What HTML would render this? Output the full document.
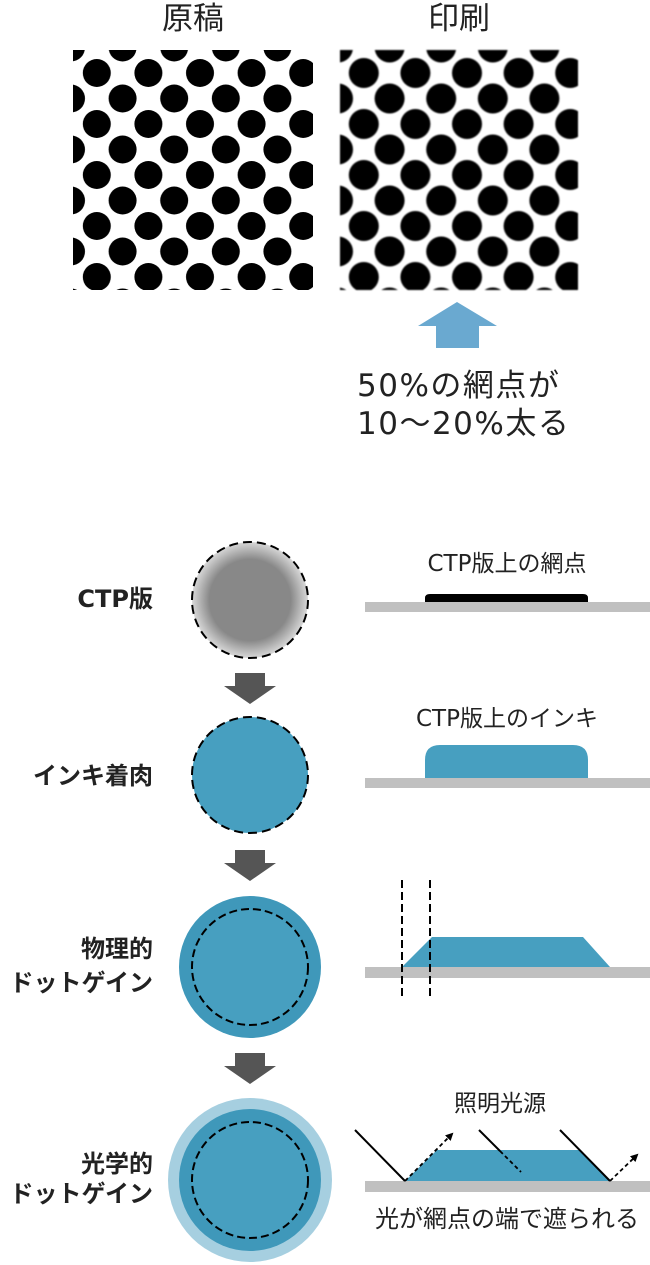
<!DOCTYPE html>
<html><head><meta charset="utf-8"><style>
html,body{margin:0;padding:0;background:#fff;width:650px;height:1265px;overflow:hidden}
svg{display:block}
text{font-family:"DejaVu Sans","Noto Sans CJK JP",sans-serif}
</style></head><body>
<svg width="650" height="1265" viewBox="0 0 650 1265" xmlns="http://www.w3.org/2000/svg">
<defs>
<pattern id="dots" x="71" y="47.5" width="51.6" height="51" patternUnits="userSpaceOnUse">
<circle cx="0" cy="0" r="14" fill="#000"/><circle cx="51.6" cy="0" r="14" fill="#000"/>
<circle cx="0" cy="51" r="14" fill="#000"/><circle cx="51.6" cy="51" r="14" fill="#000"/>
<circle cx="25.8" cy="25.5" r="14" fill="#000"/>
</pattern>
<pattern id="dots2" x="338" y="47.5" width="51.6" height="51" patternUnits="userSpaceOnUse">
<circle cx="0" cy="0" r="15" fill="#000"/><circle cx="51.6" cy="0" r="15" fill="#000"/>
<circle cx="0" cy="51" r="15" fill="#000"/><circle cx="51.6" cy="51" r="15" fill="#000"/>
<circle cx="25.8" cy="25.5" r="15" fill="#000"/>
</pattern>
<filter id="bl"><feGaussianBlur stdDeviation="0.7"/></filter>
<radialGradient id="g1"><stop offset="0.7" stop-color="#888"/><stop offset="1" stop-color="#d8d8d8"/></radialGradient>
<marker id="ah" markerWidth="8" markerHeight="8" refX="6" refY="4" orient="auto" markerUnits="userSpaceOnUse"><path d="M0,0 L8,4 L0,8z" fill="#000"/></marker>
</defs>
<text x="193" y="29" font-size="31" text-anchor="middle" fill="#222">原稿</text>
<text x="459" y="29" font-size="31" text-anchor="middle" fill="#222">印刷</text>
<rect x="73" y="50" width="240" height="240" fill="url(#dots)"/>
<g filter="url(#bl)"><rect x="340" y="50" width="238" height="240" fill="url(#dots2)"/></g>
<path d="M436,348 V326 H418 L457,302 L497,326 H479 V348z" fill="#6aa9d0"/>
<text x="357" y="396" font-size="31" letter-spacing="1.5" fill="#222">50%の網点が</text>
<text x="357" y="434" font-size="31" letter-spacing="1.5" fill="#222">10〜20%太る</text>

<g font-size="24" font-weight="bold" fill="#222" text-anchor="end">
<text x="153" y="607">CTP版</text>
<text x="153" y="784">インキ着肉</text>
<text x="153" y="957">物理的</text>
<text x="153" y="991">ドットゲイン</text>
<text x="153" y="1172">光学的</text>
<text x="153" y="1202">ドットゲイン</text>
</g>
<circle cx="250" cy="600" r="58" fill="url(#g1)"/>
<circle cx="250" cy="600" r="58" fill="none" stroke="#000" stroke-width="2" stroke-dasharray="9,5"/>
<path d="M235,673 H265 V686 H276 L250,704 L224,686 H235z" fill="#555"/>
<circle cx="250" cy="775" r="58" fill="#479fc0" stroke="#000" stroke-width="2" stroke-dasharray="9,5"/>
<path d="M235,850 H265 V863 H276 L250,881 L224,863 H235z" fill="#555"/>
<circle cx="250" cy="967" r="71" fill="#3f98ba"/>
<circle cx="250" cy="967" r="58" fill="#479fc0" stroke="#000" stroke-width="2" stroke-dasharray="8,4"/>
<path d="M235,1053 H265 V1066 H276 L250,1084 L224,1066 H235z" fill="#555"/>
<circle cx="250" cy="1180" r="82" fill="#a6cfe0"/>
<circle cx="250" cy="1180" r="71" fill="#3f98ba"/>
<circle cx="250" cy="1180" r="58" fill="#479fc0" stroke="#000" stroke-width="2" stroke-dasharray="8,4"/>

<g font-size="23" fill="#222" text-anchor="middle">
<text x="507" y="571">CTP版上の網点</text>
<text x="507" y="726">CTP版上のインキ</text>
<text x="500" y="1111">照明光源</text>
<text x="507" y="1227" font-size="24">光が網点の端で遮られる</text>
</g>
<rect x="365" y="602" width="285" height="10" fill="#c0c0c0"/>
<path d="M425,602 V598 Q425,594 430,594 H583 Q588,594 588,598 V602z" fill="#000"/>
<rect x="365" y="778" width="285" height="10" fill="#c0c0c0"/>
<path d="M425,778 V760 Q425,745 440,745 H573 Q588,745 588,760 V778z" fill="#479fc0"/>
<rect x="365" y="967" width="285" height="11" fill="#c0c0c0"/>
<path d="M402,967 L432,937 H583 L610,967z" fill="#479fc0"/>
<g stroke="#000" stroke-width="2" stroke-dasharray="8,4"><line x1="402" y1="880" x2="402" y2="998"/><line x1="430" y1="880" x2="430" y2="998"/></g>
<rect x="365" y="1181" width="285" height="11" fill="#c0c0c0"/>
<path d="M405,1181 L437,1150 H580 L610,1181z" fill="#479fc0"/>
<g stroke="#000" stroke-width="2">
<line x1="355" y1="1130" x2="405" y2="1181"/>
<line x1="479" y1="1130" x2="500" y2="1151"/>
<line x1="560" y1="1130" x2="610" y2="1181"/>
</g>
<g stroke="#000" stroke-width="1.8" stroke-dasharray="4,3" fill="none">
<line x1="405" y1="1181" x2="452" y2="1134" marker-end="url(#ah)"/>
<line x1="500" y1="1151" x2="521" y2="1172"/>
<line x1="610" y1="1181" x2="637" y2="1155" marker-end="url(#ah)"/>
</g>
</svg>
</body></html>
